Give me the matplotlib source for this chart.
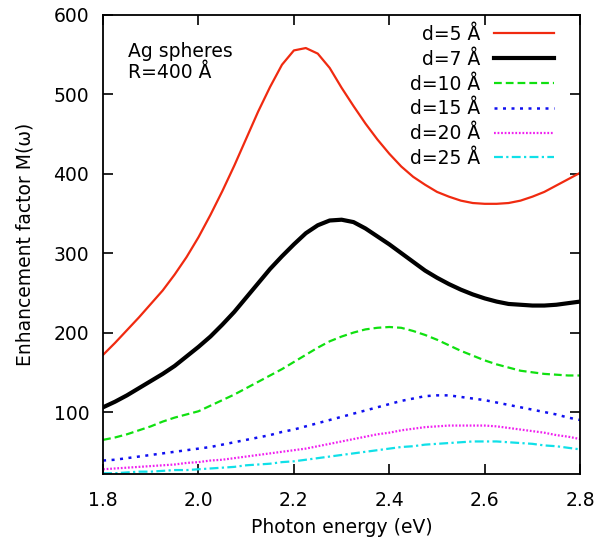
#!/usr/bin/env python3
"""Enhancement factor M(w) vs photon energy for Ag spheres at several gaps d."""

import numpy as np
import matplotlib
matplotlib.use("Agg")
import matplotlib.pyplot as plt

# photon energy grid (eV), 0.025 eV spacing
energy = np.linspace(1.8, 2.8, 41)

m_d5 = [172, 187, 203, 219, 236, 253, 273, 295, 320, 348, 378, 410, 444, 478,
        509, 537, 555, 558, 551, 533, 508, 485, 463, 443, 425, 409, 396, 386,
        377, 371, 366, 363, 362, 362, 363, 366, 371, 377, 385, 393, 401]
m_d7 = [106, 113, 121, 130, 139, 148, 158, 170, 182, 195, 210, 226, 244, 262,
        280, 296, 311, 325, 335, 341, 342, 339, 331, 321, 311, 300, 289, 278,
        269, 261, 254, 248, 243, 239, 236, 235, 234, 234, 235, 237, 239]
m_d10 = [65, 68, 72, 77, 82, 88, 93, 97, 101, 108, 115, 122, 130, 138, 146,
         154, 163, 172, 181, 189, 195, 200, 204, 206, 207, 206, 202, 197, 191,
         184, 177, 171, 165, 160, 156, 152, 150, 148, 147, 146, 146]
m_d15 = [39, 40, 42, 44, 46, 48, 50, 52, 54, 56, 59, 62, 65, 68, 71, 75, 78,
         82, 86, 90, 94, 98, 102, 106, 110, 114, 117, 120, 121, 121, 119, 117,
         115, 112, 109, 106, 103, 100, 97, 93, 90]
m_d20 = [28, 29, 30, 31, 32, 33, 34, 36, 37, 39, 40, 42, 44, 46, 48, 50, 52,
         54, 57, 60, 63, 66, 69, 72, 74, 77, 79, 81, 82, 83, 83, 83, 83, 82,
         80, 78, 76, 74, 71, 69, 66]
m_d25 = [23, 23, 24, 25, 25, 26, 27, 27, 28, 29, 30, 31, 33, 34, 35, 37, 38,
         40, 42, 44, 46, 48, 50, 52, 54, 56, 57, 59, 60, 61, 62, 63, 63, 63,
         62, 61, 60, 58, 57, 55, 53]

labels = ["d=5 Å", "d=7 Å", "d=10 Å", "d=15 Å", "d=20 Å", "d=25 Å"]
series = [m_d5, m_d7, m_d10, m_d15, m_d20, m_d25]

styles = [
    dict(color="#f02a10", lw=1.6, ls="-"),
    dict(color="black", lw=3.0, ls="-"),
    dict(color="#10e010", lw=1.6, ls=(0, (3.5, 1.8))),
    dict(color="#1010f0", lw=1.8, ls=(0, (1.2, 2.2))),
    dict(color="#f020f0", lw=1.6, ls=(0, (0.8, 0.8))),
    dict(color="#10e0e8", lw=1.6, ls=(0, (4, 1.5, 1, 1.5))),
]

plt.rcParams["font.family"] = ["DejaVu Sans"]
plt.rcParams["font.size"] = 13.5

fig = plt.figure(figsize=(6.10, 5.43), dpi=100)
ax = fig.add_axes([0.169, 0.127, 0.782, 0.846])

for values, label, style in zip(series, labels, styles):
    ax.plot(energy, values, label=label, solid_joinstyle="round", **style)

ax.set_xlim(1.8, 2.8)
ax.set_ylim(22, 600)
ax.set_xticks([1.8, 2.0, 2.2, 2.4, 2.6, 2.8])
ax.set_xticklabels(["1.8", "2.0", "2.2", "2.4", "2.6", "2.8"])
ax.set_yticks([100, 200, 300, 400, 500, 600])
ax.tick_params(direction="in", length=7, width=1.2, top=True, right=True)
ax.tick_params(axis="x", pad=12)
ax.tick_params(axis="y", pad=10)
for spine in ax.spines.values():
    spine.set_linewidth(1.3)

ax.set_xlabel("Photon energy (eV)", labelpad=6)
ax.set_ylabel("Enhancement factor M(ω)", labelpad=14)

ax.text(0.052, 0.94, "Ag spheres\nR=400 Å", transform=ax.transAxes,
        ha="left", va="top", linespacing=1.15)

ax.legend(loc="upper right", markerfirst=False, frameon=False,
          handlelength=3.2, handletextpad=0.75, labelspacing=0.31,
          borderaxespad=0.0, bbox_to_anchor=(0.961, 0.994))

fig.savefig("out.png", dpi=100)
